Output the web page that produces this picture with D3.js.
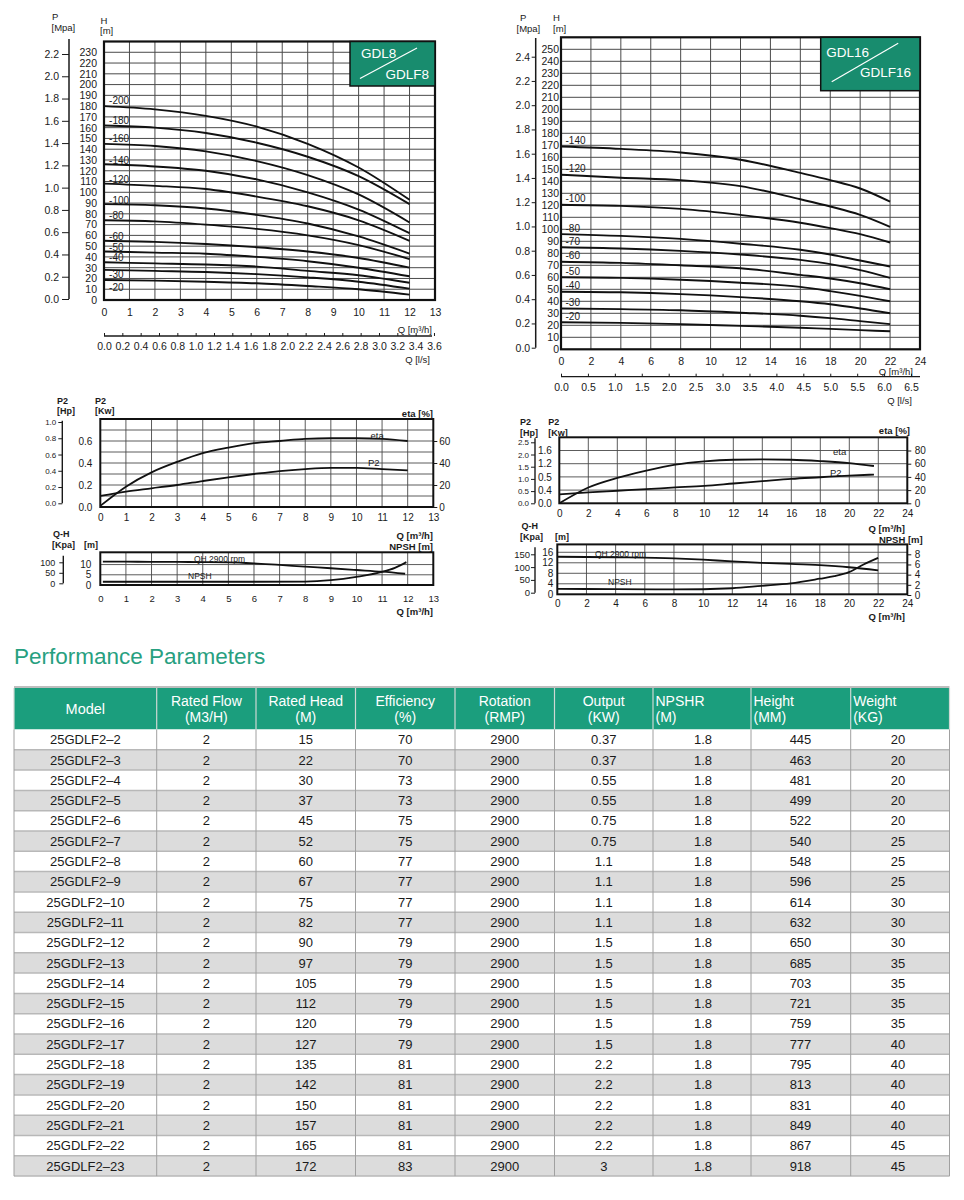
<!DOCTYPE html>
<html><head><meta charset="utf-8">
<script src="https://cdn.jsdelivr.net/npm/d3@7"></script>
<style>
body{margin:0;background:#fff;}
svg text{font-family:"Liberation Sans",Arial,Helvetica,sans-serif;}
</style></head><body>
<svg id="c" width="964" height="1200"></svg>
<script>
// ---------------- DATA ----------------
// GDL8 / GDLF8 Q-H curves (Q in m3/h, H in m)
const gdl8Flow = [0, 2, 4, 6, 8, 10, 12];
const gdl8Stages = ["-200","-180","-160","-140","-120","-100","-80","-60","-50","-40","-30","-20"];
const gdl8Heads = [
  [180, 177, 171, 161, 145, 123, 93],
  [162, 160, 155, 146, 133, 115, 89],
  [145, 143, 138, 129, 116, 98, 72],
  [126, 124, 120, 112, 100, 84, 62],
  [108, 106, 103, 96, 87, 74, 55],
  [89, 88, 85, 79, 71, 59, 43],
  [74, 73, 70, 66, 60, 51, 38],
  [55, 54, 52, 49, 45, 39, 30],
  [45, 44, 43, 40, 36, 30, 22],
  [35, 34, 33, 31, 27, 23, 16],
  [28, 27, 26, 24, 21, 17, 10.5],
  [18.5, 18, 17, 15.5, 13, 10, 5]
];
const gdl8HTicks = [0,10,20,30,40,50,60,70,80,90,100,110,120,130,140,150,160,170,180,190,200,210,220,230];
const gdl8PTicks = [0,0.2,0.4,0.6,0.8,1.0,1.2,1.4,1.6,1.8,2.0,2.2];
const gdl8QTicks = [0,1,2,3,4,5,6,7,8,9,10,11,12,13];
const gdl8LsTicks = [0,0.2,0.4,0.6,0.8,1.0,1.2,1.4,1.6,1.8,2.0,2.2,2.4,2.6,2.8,3.0,3.2,3.4,3.6];

// GDL16 / GDLF16 Q-H curves
const gdl16Flow = [0, 4, 8, 12, 16, 18, 20, 22];
const gdl16Stages = ["-140","-120","-100","-80","-70","-60","-50","-40","-30","-20"];
const gdl16Heads = [
  [169, 167, 164, 158, 147, 141, 134, 123],
  [145.5, 143, 141, 136, 125, 119, 112, 102],
  [120.5, 119.5, 117, 112, 105.5, 101, 96, 89],
  [96, 94.5, 92, 88, 83, 79, 74, 69],
  [85, 84, 82, 79, 74.5, 71, 66, 59.5],
  [73, 72, 70, 67.5, 62, 59, 55, 50],
  [60, 59.5, 58, 55.5, 52, 48.5, 44.5, 40],
  [48, 47.5, 46, 43.5, 40, 37.5, 34, 30],
  [34, 33.5, 32.5, 30.5, 28, 26, 23.5, 21],
  [22.5, 22, 21, 19.5, 18, 17, 16, 15]
];
const gdl16HTicks = [0,10,20,30,40,50,60,70,80,90,100,110,120,130,140,150,160,170,180,190,200,210,220,230,240,250];
const gdl16PTicks = [0,0.2,0.4,0.6,0.8,1.0,1.2,1.4,1.6,1.8,2.0,2.2,2.4];
const gdl16QTicks = [0,2,4,6,8,10,12,14,16,18,20,22,24];
const gdl16LsTicks = [0,0.5,1.0,1.5,2.0,2.5,3.0,3.5,4.0,4.5,5.0,5.5,6.0,6.5];

// GDL8 power / efficiency
const p8Flow = [0,1,2,3,4,5,6,7,8,9,10,11,12];
const p8Eta = [1,18.5,31.5,41,49,54,58,60,62,62.5,62.5,62,60];
const p8P2 = [0.1,0.14,0.17,0.2,0.236,0.27,0.3,0.327,0.345,0.355,0.355,0.345,0.333];
const p8KwTicks = [0,0.2,0.4,0.6];
const p8EtaTicks = [0,20,40,60];
const p8HpTicks = [0,0.2,0.4,0.6,0.8,1.0];

// GDL8 QH 2900 rpm / NPSH
const qh8Flow = [0.1,1,2,3,4,5,6,7,8,9,10,11,11.9];
const qh8Head = [11.4,11.4,11.35,11.3,11.2,11.1,10.6,9.8,9,8.2,7.35,6.5,5.5];
const npsh8Flow = [0.1,2,4,6,8,9,10,11,11.5,11.95];
const npsh8Val = [1.6,1.6,1.6,1.6,1.7,2.4,4.0,6.4,8.4,11.2];
const qh8MTicks = [0,5,10];
const qh8KpaTicks = [0,50,100];

// GDL16 power / efficiency
const p16Flow = [0,2,4,6,8,10,12,14,16,18,20,21.7];
const p16Eta = [0,24,38.5,49.5,58.5,63.5,66,66.5,66,64,61,56.5];
const p16P2 = [0.27,0.33,0.38,0.43,0.48,0.53,0.6,0.67,0.74,0.79,0.84,0.87];
const p16KwTicks = [0,0.4,0.8,1.2,1.6];
const p16KwLabels = ["0.0","0.4","0.5","1.2","1.6"];
const p16EtaTicks = [0,20,40,60,80];
const p16HpTicks = [0,0.5,1.0,1.5,2.0,2.5];

// GDL16 QH 2900 rpm / NPSH
const qh16Flow = [0,4,8,10,12,14,16,18,20,22];
const qh16Head = [14.3,14.1,13.7,13.2,12.5,12,11.6,11.1,10.3,9.1];
const npsh16Flow = [0,4,8,12,14,16,18,19,20,21,22];
const npsh16Val = [1.2,1.15,1.1,1.33,1.8,2.3,3.2,3.7,4.5,6,7.3];
const qh16MTicks = [0,4,8,12,16];
const qh16NpshTicks = [0,2,4,6,8];
const qh16KpaTicks = [0,50,100,150];

// Performance table
const headerLine1 = ["Model","Rated Flow","Rated Head","Efficiency","Rotation","Output","NPSHR","Height","Weight"];
const headerLine2 = ["","(M3/H)","(M)","(%)","(RMP)","(KW)","(M)","(MM)","(KG)"];
const models = ["25GDLF2–2","25GDLF2–3","25GDLF2–4","25GDLF2–5","25GDLF2–6","25GDLF2–7","25GDLF2–8","25GDLF2–9","25GDLF2–10","25GDLF2–11","25GDLF2–12","25GDLF2–13","25GDLF2–14","25GDLF2–15","25GDLF2–16","25GDLF2–17","25GDLF2–18","25GDLF2–19","25GDLF2–20","25GDLF2–21","25GDLF2–22","25GDLF2–23"];
const ratedFlow = [2,2,2,2,2,2,2,2,2,2,2,2,2,2,2,2,2,2,2,2,2,2];
const ratedHead = [15,22,30,37,45,52,60,67,75,82,90,97,105,112,120,127,135,142,150,157,165,172];
const efficiency = [70,70,73,73,75,75,77,77,77,77,79,79,79,79,79,79,81,81,81,81,81,83];
const rotation = [2900,2900,2900,2900,2900,2900,2900,2900,2900,2900,2900,2900,2900,2900,2900,2900,2900,2900,2900,2900,2900,2900];
const outputKW = ["0.37","0.37","0.55","0.55","0.75","0.75","1.1","1.1","1.1","1.1","1.5","1.5","1.5","1.5","1.5","1.5","2.2","2.2","2.2","2.2","2.2","3"];
const npshr = ["1.8","1.8","1.8","1.8","1.8","1.8","1.8","1.8","1.8","1.8","1.8","1.8","1.8","1.8","1.8","1.8","1.8","1.8","1.8","1.8","1.8","1.8"];
const heightMM = [445,463,481,499,522,540,548,596,614,632,650,685,703,721,759,777,795,813,831,849,867,918];
const weightKG = [20,20,20,20,20,25,25,25,30,30,30,35,35,35,35,40,40,40,40,40,45,45];

// ---------------- DRAWING ----------------
const FONT = '"Liberation Sans", Arial, Helvetica, sans-serif';
const INK = "#1a1a1a";
const GRID = "#4a4a4a";
const BOXGREEN = "#188c6e";
const svg = d3.select("#c");

function styleAxis(g, size, keepDomain) {
  g.attr("font-family", FONT).attr("font-size", size);
  if (!keepDomain) g.select(".domain").remove();
  g.selectAll("text").attr("fill", INK);
  g.selectAll(".tick line").attr("stroke", INK).attr("stroke-width", 1);
  return g;
}
function grid(g, x, y, xs, ys, sw) {
  const [x0, x1] = x.range(), [y0, y1] = y.range();
  g.append("g").selectAll("line").data(xs).join("line")
    .attr("x1", d => x(d)).attr("x2", d => x(d)).attr("y1", y0).attr("y2", y1)
    .attr("stroke", GRID).attr("stroke-width", sw || 0.9);
  g.append("g").selectAll("line").data(ys).join("line")
    .attr("x1", x0).attr("x2", x1).attr("y1", d => y(d)).attr("y2", d => y(d))
    .attr("stroke", GRID).attr("stroke-width", sw || 0.9);
}
function box(g, x, y, sw) {
  const [x0, x1] = x.range(), [y0, y1] = y.range();
  g.append("rect").attr("x", x0).attr("y", y1).attr("width", x1 - x0).attr("height", y0 - y1)
    .attr("fill", "none").attr("stroke", "#111").attr("stroke-width", sw || 2);
}
function curve(g, x, y, xs, ys, sw) {
  const line = d3.line().x(d => x(d[0])).y(d => y(d[1])).curve(d3.curveMonotoneX);
  g.append("path").attr("d", line(xs.map((v, i) => [v, ys[i]])))
    .attr("fill", "none").attr("stroke", "#111").attr("stroke-width", sw || 1.8);
}
function label(g, x, y, txt, size, anchor, weight) {
  return g.append("text").attr("x", x).attr("y", y).text(txt)
    .attr("font-size", size).attr("fill", INK).attr("text-anchor", anchor || "start")
    .attr("font-weight", weight || "normal");
}
function vline(g, x, y1, y2, sw) {
  g.append("line").attr("x1", x).attr("x2", x).attr("y1", y1).attr("y2", y2).attr("stroke", INK).attr("stroke-width", sw || 1.4);
}
function legendBox(g, x0, y0, x1, y1, t1, t2, d) {
  g.append("rect").attr("x", x0).attr("y", y0).attr("width", x1 - x0).attr("height", y1 - y0).attr("fill", BOXGREEN)
    .attr("stroke", "#111").attr("stroke-width", 1.5);
  g.append("text").attr("x", x0 + d.t1x).attr("y", y0 + d.t1y).text(t1).attr("fill", "#fff").attr("font-size", 13.5);
  g.append("text").attr("x", x1 - d.t2x).attr("y", y0 + d.t2y).text(t2).attr("fill", "#fff").attr("font-size", 13.5).attr("text-anchor", "end");
  g.append("line").attr("x1", x0 + d.lx1).attr("y1", y0 + d.ly1).attr("x2", x0 + d.lx2).attr("y2", y0 + d.ly2)
    .attr("stroke", "#fff").attr("stroke-width", 1.2);
}

// ===== Chart A: GDL8 Q-H =====
{
  const g = svg.append("g");
  const x = d3.scaleLinear().domain([0, 13]).range([104, 435]);
  const y = d3.scaleLinear().domain([0, 240]).range([300, 41.5]);
  grid(g, x, y, d3.range(1, 13), gdl8HTicks.slice(1), 1);
  gdl8Heads.forEach(h => curve(g, x, y, gdl8Flow, h, 1.9));
  const dy = [-6, -5, -5, -4, -4, -4, -5, -4.5, -4.5, -4.5, 5, 7];
  gdl8Stages.forEach((s, i) => label(g, x(0.2), y(gdl8Heads[i][0]) + dy[i] + 3.5, s, 10));
  box(g, x, y, 2.2);
  legendBox(g, 350, 41.5, 435, 86, "GDL8", "GDLF8", {t1x: 11, t1y: 16, t2x: 6, t2y: 37, lx1: 10, ly1: 37, lx2: 67, ly2: 6.5});
  styleAxis(g.append("g").attr("transform", "translate(104,0)")
    .call(d3.axisLeft(y).tickValues(gdl8HTicks).tickSize(0).tickPadding(7)), 10.5);
  const p = d3.scaleLinear().domain([0, 2.2]).range([299, 54]);
  vline(g, 69, 39, 299, 1.5);
  styleAxis(g.append("g").attr("transform", "translate(69,0)")
    .call(d3.axisLeft(p).tickValues(gdl8PTicks).tickFormat(d3.format(".1f")).tickSize(7).tickPadding(3)), 10.5);
  styleAxis(g.append("g").attr("transform", "translate(0,300)")
    .call(d3.axisBottom(x).tickValues(gdl8QTicks).tickSize(0).tickPadding(9)), 10.5);
  label(g, 432, 333, "Q  [m³/h]", 9.5, "end");
  const ls = d3.scaleLinear().domain([0, 13 / 3.6]).range([104, 435]);
  g.append("line").attr("x1", 104).attr("x2", 432).attr("y1", 336).attr("y2", 336).attr("stroke", INK).attr("stroke-width", 1.3);
  styleAxis(g.append("g").attr("transform", "translate(0,336)")
    .call(d3.axisBottom(ls).tickValues(gdl8LsTicks).tickFormat(d3.format(".1f")).tickSizeInner(-3).tickSizeOuter(0).tickPadding(7)), 10.5);
  label(g, 430, 363, "Q  [l/s]", 9.5, "end");
  label(g, 52, 20, "P", 9.5);
  label(g, 51.5, 31, "[Mpa]", 9.5);
  label(g, 100.5, 24, "H", 9.5);
  label(g, 100, 34, "[m]", 9.5);
}

// ===== Chart B: GDL16 Q-H =====
{
  const g = svg.append("g");
  const x = d3.scaleLinear().domain([0, 24]).range([561, 920]);
  const y = d3.scaleLinear().domain([0, 260]).range([349.3, 37.3]);
  grid(g, x, y, d3.range(2, 24, 2), gdl16HTicks.slice(1), 1);
  gdl16Heads.forEach(h => curve(g, x, y, gdl16Flow, h, 1.9));
  gdl16Stages.forEach((s, i) => label(g, x(0.3), y(gdl16Heads[i][0]) - 6 + 3.5, s, 10));
  box(g, x, y, 2.2);
  legendBox(g, 820.7, 37.3, 920, 90.7, "GDL16", "GDLF16", {t1x: 5.5, t1y: 20, t2x: 9, t2y: 39.5, lx1: 11, ly1: 44.5, lx2: 77.5, ly2: 6});
  styleAxis(g.append("g").attr("transform", "translate(561,0)")
    .call(d3.axisLeft(y).tickValues(gdl16HTicks).tickSize(0).tickPadding(2)), 10.5);
  const p = d3.scaleLinear().domain([0, 2.4]).range([347.7, 56.7]);
  vline(g, 535.7, 38, 347.7, 1.5);
  styleAxis(g.append("g").attr("transform", "translate(535.7,0)")
    .call(d3.axisLeft(p).tickValues(gdl16PTicks).tickFormat(d3.format(".1f")).tickSize(4).tickPadding(1.5)), 10.5);
  styleAxis(g.append("g").attr("transform", "translate(0,349.3)")
    .call(d3.axisBottom(x).tickValues(gdl16QTicks).tickSize(0).tickPadding(8)), 10.5);
  label(g, 913, 375, "Q [m³/h]", 9.5, "end");
  const ls = d3.scaleLinear().domain([0, 24 / 3.6]).range([561, 920]);
  g.append("line").attr("x1", 561).attr("x2", 920).attr("y1", 376.7).attr("y2", 376.7).attr("stroke", INK).attr("stroke-width", 1.3);
  styleAxis(g.append("g").attr("transform", "translate(0,376.7)")
    .call(d3.axisBottom(ls).tickValues(gdl16LsTicks).tickFormat(d3.format(".1f")).tickSizeInner(-3).tickSizeOuter(0).tickPadding(7)), 10.5);
  label(g, 912, 404, "Q  [l/s]", 9.5, "end");
  label(g, 520, 20.5, "P", 9.5);
  label(g, 516.5, 32, "[Mpa]", 9.5);
  label(g, 553, 20.5, "H", 9.5);
  label(g, 553, 32, "[m]", 9.5);
}

// ===== Chart C: GDL8 P2 / eta =====
{
  const g = svg.append("g");
  const x = d3.scaleLinear().domain([0, 13]).range([100.3, 433.3]);
  const y = d3.scaleLinear().domain([0, 0.8]).range([507, 419]);
  const eta = d3.scaleLinear().domain([0, 80]).range([507, 419]);
  grid(g, x, y, d3.range(1, 13), [0.1, 0.2, 0.3, 0.4, 0.5, 0.6, 0.7], 0.9);
  curve(g, x, eta, p8Flow, p8Eta, 1.8);
  curve(g, x, y, p8Flow, p8P2, 1.8);
  box(g, x, y, 2);
  label(g, 370.5, 438.5, "eta", 9.5);
  label(g, 368, 466, "P2", 9.5);
  styleAxis(g.append("g").attr("transform", "translate(100.3,0)")
    .call(d3.axisLeft(y).tickValues(p8KwTicks).tickFormat(d3.format(".1f")).tickSize(0).tickPadding(8)), 10);
  styleAxis(g.append("g").attr("transform", "translate(433.3,0)")
    .call(d3.axisRight(eta).tickValues(p8EtaTicks).tickSize(4).tickPadding(2)), 10);
  const hp = d3.scaleLinear().domain([0, 1.0]).range([503.3, 422]);
  vline(g, 62.3, 420.7, 503.3, 1.4);
  styleAxis(g.append("g").attr("transform", "translate(62.3,0)")
    .call(d3.axisLeft(hp).tickValues(p8HpTicks).tickFormat(d3.format(".1f")).tickSize(4).tickPadding(2)), 8);
  styleAxis(g.append("g").attr("transform", "translate(0,507)")
    .call(d3.axisBottom(x).tickValues(gdl8QTicks).tickSize(0).tickPadding(6.5)), 10);
  label(g, 57, 403.5, "P2", 9, "start", "bold");
  label(g, 57, 414, "[Hp]", 9, "start", "bold");
  label(g, 95, 403.5, "P2", 9, "start", "bold");
  label(g, 95, 414, "[Kw]", 9, "start", "bold");
  label(g, 433, 416.5, "eta  [%]", 9.5, "end", "bold");
}

// ===== Chart D: GDL8 QH / NPSH =====
{
  const g = svg.append("g");
  const x = d3.scaleLinear().domain([0, 13]).range([100.3, 433.3]);
  const y = d3.scaleLinear().domain([0, 16]).range([585, 552.3]);
  grid(g, x, y, d3.range(1, 13), [5, 10], 0.9);
  curve(g, x, y, qh8Flow, qh8Head, 1.8);
  curve(g, x, y, npsh8Flow, npsh8Val, 1.8);
  box(g, x, y, 2);
  label(g, 194, 562, "QH  2900 rpm", 8.5);
  label(g, 188, 579, "NPSH", 8.5);
  styleAxis(g.append("g").attr("transform", "translate(100.3,0)")
    .call(d3.axisLeft(y).tickValues(qh8MTicks).tickSize(0).tickPadding(9)), 10);
  const kpa = d3.scaleLinear().domain([0, 100]).range([583.3, 562.3]);
  vline(g, 63.3, 555.7, 583.3, 1.4);
  styleAxis(g.append("g").attr("transform", "translate(63.3,0)")
    .call(d3.axisLeft(kpa).tickValues(qh8KpaTicks).tickSize(4).tickPadding(4)), 9);
  styleAxis(g.append("g").attr("transform", "translate(0,585)")
    .call(d3.axisBottom(x).tickValues(gdl8QTicks).tickSize(0).tickPadding(10.5)), 9.5);
  label(g, 53, 536.5, "Q-H", 9, "start", "bold");
  label(g, 52, 547.5, "[Kpa]", 9, "start", "bold");
  label(g, 84, 547.5, "[m]", 9, "start", "bold");
  label(g, 433, 538.5, "Q  [m³/h]", 9.5, "end", "bold");
  label(g, 433, 549.5, "NPSH  [m]", 9.5, "end", "bold");
  label(g, 433, 615, "Q [m³/h]", 9.5, "end", "bold");
}

// ===== Chart E: GDL16 P2 / eta =====
{
  const g = svg.append("g");
  const x = d3.scaleLinear().domain([0, 24]).range([559.3, 907.3]);
  const y = d3.scaleLinear().domain([0, 2.0]).range([503.3, 437.3]);
  const eta = d3.scaleLinear().domain([0, 100]).range([503.3, 437.3]);
  grid(g, x, y, d3.range(2, 24, 2), [0.4, 0.8, 1.2, 1.6], 0.9);
  curve(g, x, eta, p16Flow, p16Eta, 1.8);
  curve(g, x, y, p16Flow, p16P2, 1.8);
  box(g, x, y, 2);
  label(g, 833, 454.5, "eta", 9.5);
  label(g, 830, 475.5, "P2", 9.5);
  styleAxis(g.append("g").attr("transform", "translate(559.3,0)")
    .call(d3.axisLeft(y).tickValues(p16KwTicks).tickFormat((d, i) => p16KwLabels[i]).tickSize(0).tickPadding(7.5)), 10);
  styleAxis(g.append("g").attr("transform", "translate(907.3,0)")
    .call(d3.axisRight(eta).tickValues(p16EtaTicks).tickSize(4).tickPadding(3.5)), 10);
  const hp = d3.scaleLinear().domain([0, 2.5]).range([503.3, 442.3]);
  vline(g, 535, 438.3, 503.3, 1.4);
  styleAxis(g.append("g").attr("transform", "translate(535,0)")
    .call(d3.axisLeft(hp).tickValues(p16HpTicks).tickFormat(d3.format(".1f")).tickSize(4).tickPadding(2)), 8);
  styleAxis(g.append("g").attr("transform", "translate(0,503.3)")
    .call(d3.axisBottom(x).tickValues(gdl16QTicks).tickSize(0).tickPadding(7)), 10);
  label(g, 520, 425, "P2", 9, "start", "bold");
  label(g, 520, 435.5, "[Hp]", 9, "start", "bold");
  label(g, 548.3, 425, "P2", 9, "start", "bold");
  label(g, 548.3, 435.5, "[Kw]", 9, "start", "bold");
  label(g, 910, 434, "eta  [%]", 9.5, "end", "bold");
}

// ===== Chart F: GDL16 QH / NPSH =====
{
  const g = svg.append("g");
  const x = d3.scaleLinear().domain([0, 24]).range([557.3, 907.3]);
  const y = d3.scaleLinear().domain([0, 19]).range([594.3, 544.4]);
  const np = d3.scaleLinear().domain([0, 8]).range([595, 554.3]);
  grid(g, x, y, d3.range(2, 24, 2), [4, 8, 12, 16], 0.9);
  curve(g, x, y, qh16Flow, qh16Head, 1.8);
  curve(g, x, np, npsh16Flow, npsh16Val, 1.8);
  box(g, x, y, 2);
  label(g, 595, 556.5, "QH  2900 rpm", 8.5);
  label(g, 608, 585, "NPSH", 8.5);
  styleAxis(g.append("g").attr("transform", "translate(557.3,0)")
    .call(d3.axisLeft(y).tickValues(qh16MTicks).tickSize(0).tickPadding(4)), 10);
  styleAxis(g.append("g").attr("transform", "translate(907.3,0)")
    .call(d3.axisRight(np).tickValues(qh16NpshTicks).tickSize(4).tickPadding(3.5)), 10);
  const kpa = d3.scaleLinear().domain([0, 150]).range([592.7, 554.3]);
  vline(g, 535, 547.3, 592.7, 1.4);
  styleAxis(g.append("g").attr("transform", "translate(535,0)")
    .call(d3.axisLeft(kpa).tickValues(qh16KpaTicks).tickSize(4).tickPadding(1)), 9.5);
  styleAxis(g.append("g").attr("transform", "translate(0,594.3)")
    .call(d3.axisBottom(x).tickValues(gdl16QTicks).tickSize(0).tickPadding(5.5)), 10);
  label(g, 521.5, 528.5, "Q-H", 9, "start", "bold");
  label(g, 520, 539.5, "[Kpa]", 9, "start", "bold");
  label(g, 555, 539.5, "[m]", 9, "start", "bold");
  label(g, 905, 531.5, "Q  [m³/h]", 9.5, "end", "bold");
  label(g, 922.7, 542.5, "NPSH  [m]", 9.5, "end", "bold");
  label(g, 905, 619.5, "Q [m³/h]", 9.5, "end", "bold");
}

// ===== Table =====
{
  const g = svg.append("g");
  g.append("text").attr("x", 14).attr("y", 664).text("Performance Parameters")
    .attr("font-size", 22.5).attr("fill", "#27a080");
  const edges = [14, 156.7, 256, 355.5, 455, 554.5, 653, 751, 850.7, 949.5];
  const centers = edges.slice(0, -1).map((e, i) => (e + edges[i + 1]) / 2);
  const headTop = 688, headBot = 729.5;
  g.append("line").attr("x1", 14).attr("x2", 949.5).attr("y1", 687).attr("y2", 687).attr("stroke", "#a8a8a8").attr("stroke-width", 1.5);
  g.append("rect").attr("x", 14).attr("y", headTop).attr("width", 949.5 - 14).attr("height", headBot - headTop).attr("fill", "#1b9e7d");
  const rows = d3.scaleBand().domain(models).range([headBot, headBot + models.length * 20.3]);
  g.append("g").selectAll("rect").data(models).join("rect")
    .attr("x", 14).attr("width", 949.5 - 14).attr("y", d => rows(d)).attr("height", rows.bandwidth())
    .attr("fill", (d, i) => i % 2 ? "#dcdcdc" : "#ffffff");
  g.append("g").selectAll("line").data(models).join("line")
    .attr("x1", 14).attr("x2", 949.5).attr("y1", d => rows(d) + rows.bandwidth()).attr("y2", d => rows(d) + rows.bandwidth())
    .attr("stroke", "#b8b8b8").attr("stroke-width", 1.5);
  g.append("g").selectAll("line").data(edges).join("line")
    .attr("x1", d => d).attr("x2", d => d).attr("y1", headTop).attr("y2", headBot)
    .attr("stroke", "#cfd8d4").attr("stroke-width", 1.2);
  g.append("g").selectAll("line").data(edges).join("line")
    .attr("x1", d => d).attr("x2", d => d).attr("y1", headBot).attr("y2", headBot + models.length * 20.3)
    .attr("stroke", "#a0a0a0").attr("stroke-width", 1);
  // headers
  headerLine1.forEach((h, i) => {
    const leftAligned = i >= 6;
    const tx = leftAligned ? edges[i] + 2.5 : centers[i];
    const anchor = leftAligned ? "start" : "middle";
    if (headerLine2[i] === "") {
      g.append("text").attr("x", tx).attr("y", 714).text(h).attr("fill", "#fff").attr("font-size", 14.5).attr("text-anchor", anchor);
    } else {
      g.append("text").attr("x", tx).attr("y", 705.5).text(h).attr("fill", "#fff").attr("font-size", 14).attr("text-anchor", anchor);
      g.append("text").attr("x", tx).attr("y", 721.8).text(headerLine2[i]).attr("fill", "#fff").attr("font-size", 14).attr("text-anchor", anchor);
    }
  });
  const cols = [models, ratedFlow, ratedHead, efficiency, rotation, outputKW, npshr, heightMM, weightKG];
  const valueX = [centers[0], centers[1], centers[2], centers[3], centers[4], centers[5], 703, 800.5, 898];
  cols.forEach((col, ci) => {
    g.append("g").selectAll("text").data(col).join("text")
      .attr("x", valueX[ci]).attr("y", (d, i) => rows(models[i]) + rows.bandwidth() / 2 + 4.6)
      .attr("text-anchor", "middle").attr("font-size", 13).attr("fill", "#1a1a1a").text(d => d);
  });
}
</script>
</body></html>
